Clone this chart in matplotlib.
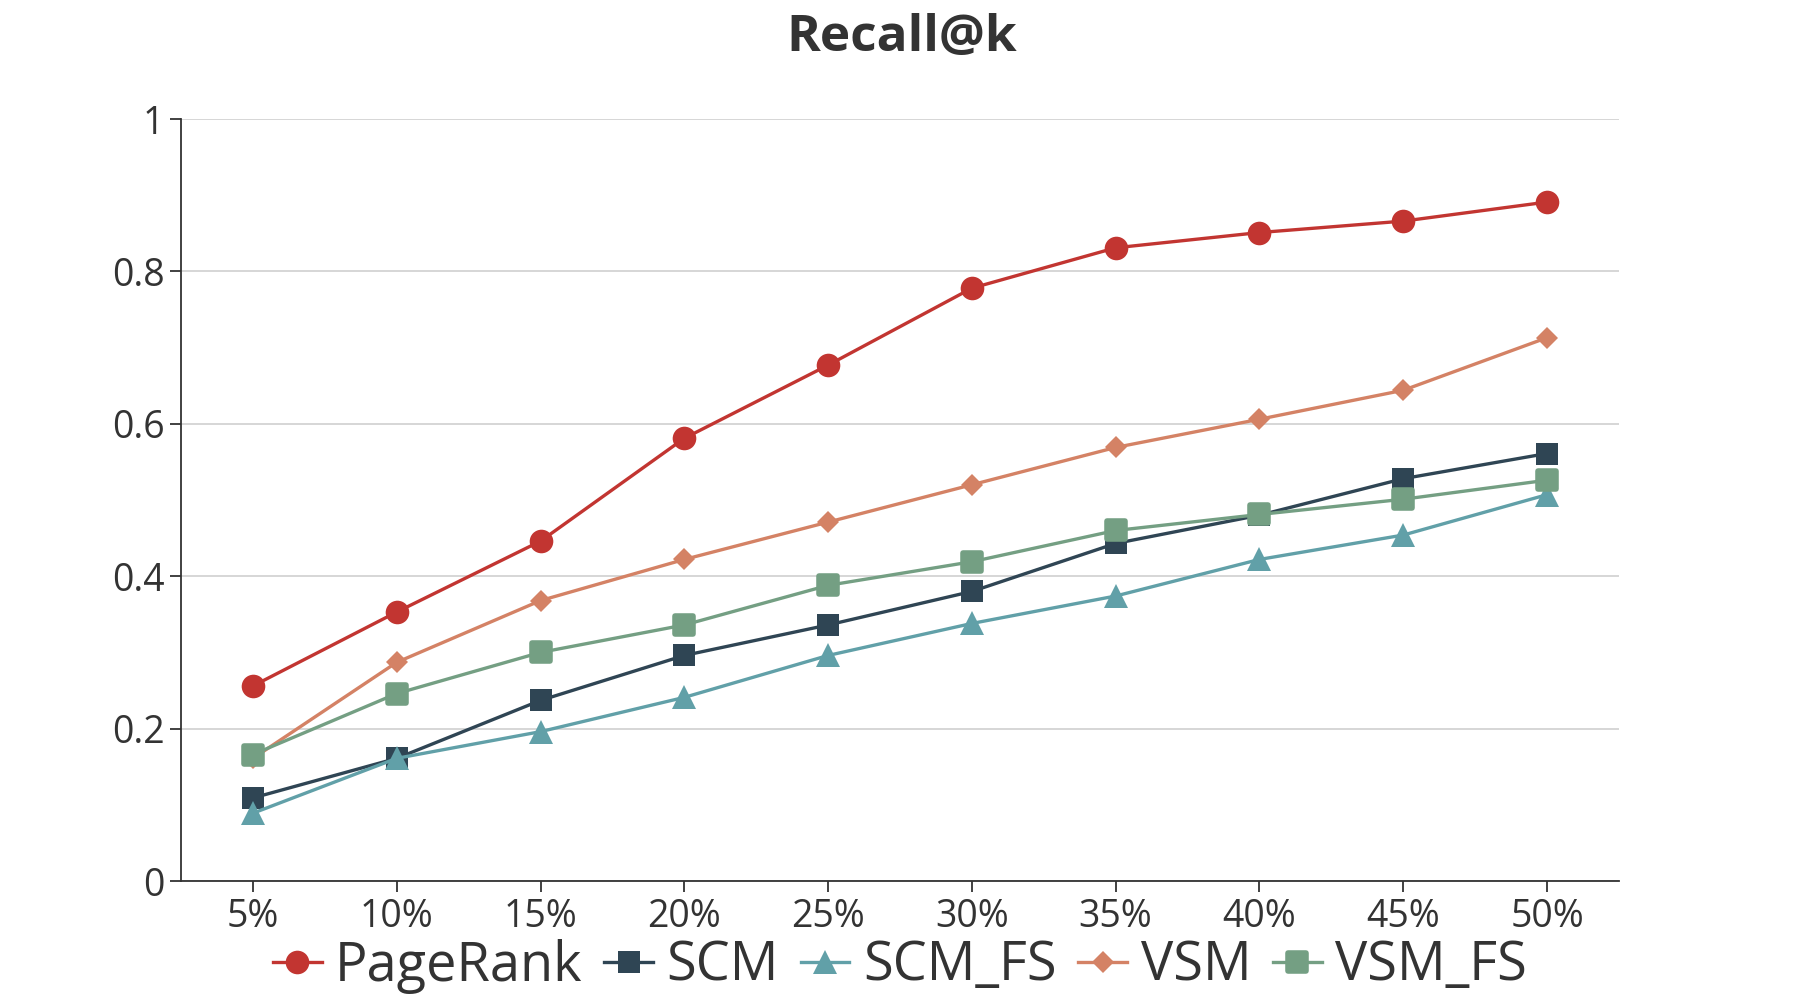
import matplotlib
matplotlib.use('Agg')
import matplotlib.pyplot as plt
from matplotlib.markers import MarkerStyle

plt.rcParams['font.family'] = ['Open Sans', 'DejaVu Sans']

# 数据
categories = ['5%', '10%', '15%', '20%', '25%', '30%', '35%', '40%', '45%', '50%']
pagerank = [0.256, 0.353, 0.446, 0.581, 0.677, 0.778, 0.831, 0.851, 0.866, 0.891]
scm = [0.109, 0.161, 0.237, 0.296, 0.336, 0.380, 0.443, 0.480, 0.528, 0.561]
scm_fs = [0.089, 0.161, 0.196, 0.241, 0.296, 0.338, 0.374, 0.422, 0.454, 0.507]
vsm = [0.161, 0.287, 0.368, 0.422, 0.471, 0.520, 0.569, 0.606, 0.644, 0.713]
vsm_fs = [0.166, 0.246, 0.300, 0.336, 0.388, 0.419, 0.460, 0.481, 0.501, 0.526]
y_ticks = [0, 0.2, 0.4, 0.6, 0.8, 1]
y_labels = ['0', '0.2', '0.4', '0.6', '0.8', '1']

series = [
    ('PageRank', pagerank, '#c23531', 'o', 17, 0),
    ('SCM', scm, '#2f4554', 's', 16.5, 0),
    ('SCM_FS', scm_fs, '#61a0a8', '^', 17, 0),
    ('VSM', vsm, '#d48265', 'D', 11.5, 0),
    ('VSM_FS', vsm_fs, '#749f83', MarkerStyle('s', joinstyle='round'), 13, 4),
]

fig = plt.figure(figsize=(18, 10), dpi=100)
ax = fig.add_axes([0.1006, 0.119, 0.7988, 0.762])

x = list(range(len(categories)))
for name, vals, color, marker, ms, mew in series:
    ax.plot(x, vals, color=color, lw=2.4, marker=marker, markersize=ms,
            markerfacecolor=color, markeredgecolor=color, markeredgewidth=mew,
            label=name, zorder=3)

ax.set_xlim(-0.5, len(categories) - 0.5)
ax.set_ylim(0, 1)
ax.set_xticks(x)
ax.set_xticklabels(categories)
ax.set_yticks(y_ticks)
ax.set_yticklabels(y_labels)
ax.grid(axis='y', color='#cccccc', lw=1.1, zorder=0)
ax.set_axisbelow(True)

for s in ['top', 'right']:
    ax.spines[s].set_visible(False)
for s in ['left', 'bottom']:
    ax.spines[s].set_color('#333333')
    ax.spines[s].set_linewidth(1.3)
ax.tick_params(axis='both', colors='#333333', labelsize=27, length=8, width=1.3, pad=4)

fig.text(0.501, 0.962, 'Recall@k', ha='center', va='center', fontsize=37,
         fontweight='bold', color='#333333')

fig.legend(loc='center', bbox_to_anchor=(0.5, 0.034), ncol=5, frameon=False,
           fontsize=39, handlelength=0.9, handletextpad=0.25, columnspacing=0.4,
           labelcolor='#333333')

plt.savefig('out.png', dpi=100)
